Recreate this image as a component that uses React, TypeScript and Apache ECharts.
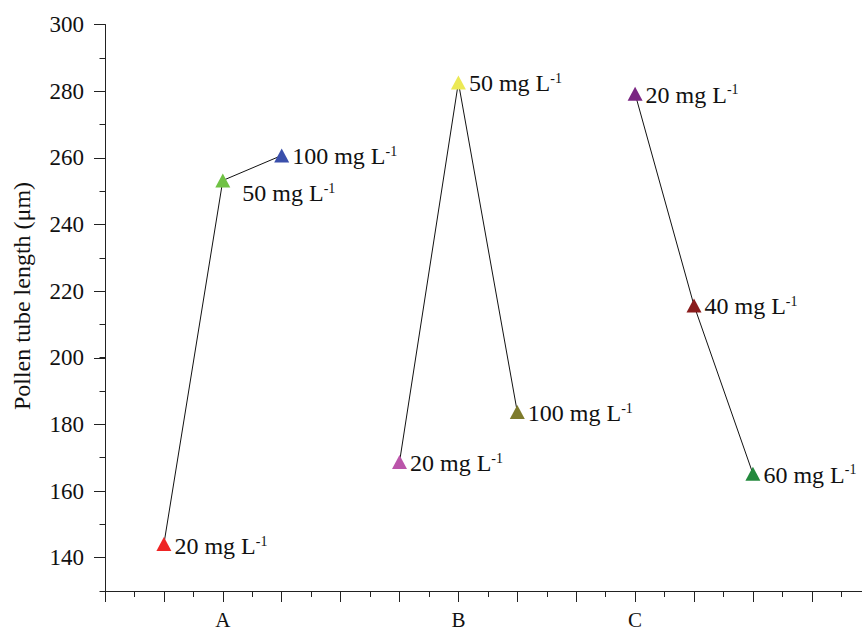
import React, { useEffect, useRef } from "react";
import * as echarts from "echarts";

const groupNames = ["A", "B", "C"];
const groupTickX = [3, 7, 10];

const xA = [2, 3, 4];
const yA = [144.1, 253.2, 260.7];
const concA = [20, 50, 100];
const colorsA = ["#ee2525", "#70c244", "#3a4fab"];

const xB = [6, 7, 8];
const yB = [168.7, 282.6, 183.7];
const concB = [20, 50, 100];
const colorsB = ["#bb55aa", "#ece955", "#7e7b2c"];

const xC = [10, 11, 12];
const yC = [279.2, 215.7, 165.2];
const concC = [20, 40, 60];
const colorsC = ["#7a2582", "#8a1c1c", "#23893d"];

const yAxisTitle = "Pollen tube length (\u03bcm)";
const unitText = "mg L";
const unitSup = "-1";

const FONT = "'Liberation Serif', 'Times New Roman', serif";

function buildSeries(xs: number[], ys: number[], conc: number[], colors: string[], offsets: number[][]) {
  return {
    type: "line",
    xAxisIndex: 0,
    yAxisIndex: 0,
    data: xs.map((x, i) => ({
      value: [x, ys[i]],
      itemStyle: { color: colors[i] },
      label: { offset: offsets[i] },
    })),
    symbol: "triangle",
    symbolSize: [15, 14],
    lineStyle: { color: "#111", width: 1 },
    label: {
      show: true,
      position: "right",
      distance: 3,
      formatter: (p: any) => `{a|${conc[p.dataIndex]} ${unitText}}{s|${unitSup}}`,
      rich: {
        a: { fontFamily: FONT, fontSize: 24, color: "#111" },
        s: { fontFamily: FONT, fontSize: 14, color: "#111", verticalAlign: "top" },
      },
    },
    emphasis: { disabled: true },
  };
}

export default function App() {
  const ref = useRef<HTMLDivElement>(null);
  useEffect(() => {
    if (!ref.current) return;
    const chart = echarts.init(ref.current, null, { renderer: "svg" });
    const axisColor = "#222";
    const gridWidth = 13 * 58.9;
    chart.setOption({
      animation: false,
      backgroundColor: "#fff",
      grid: [
        { left: 105, width: gridWidth, top: 24.5, bottom: 41, containLabel: false, outerBoundsMode: "none" },
        { left: 105, width: gridWidth, top: 24.5, bottom: 74.3, containLabel: false, outerBoundsMode: "none" },
      ],
      xAxis: [
        {
          type: "value",
          gridIndex: 0,
          min: 1,
          max: 14,
          interval: 1,
          axisLine: { show: true, lineStyle: { color: axisColor, width: 1 } },
          axisTick: { show: true, length: 11, lineStyle: { color: axisColor } },
          minorTick: { show: true, splitNumber: 2, length: 6, lineStyle: { color: axisColor } },
          splitLine: { show: false },
          axisLabel: {
            margin: 18,
            fontFamily: FONT,
            fontSize: 21,
            lineHeight: 21,
            color: "#111",
            formatter: (v: number) => {
              const idx = groupTickX.indexOf(Math.round(v));
              return Math.abs(v - Math.round(v)) < 1e-6 && idx >= 0 ? groupNames[idx] : "";
            },
          },
        },
        {
          type: "value",
          gridIndex: 1,
          min: 1,
          max: 14,
          show: false,
        },
      ],
      yAxis: [
        {
          type: "value",
          gridIndex: 0,
          min: 130,
          max: 300,
          interval: 10,
          axisLine: { show: true, lineStyle: { color: axisColor, width: 1 } },
          axisTick: { show: true, length: 5.5, lineStyle: { color: axisColor } },
          axisLabel: { show: false },
          splitLine: { show: false },
        },
        {
          type: "value",
          gridIndex: 1,
          min: 140,
          max: 300,
          interval: 20,
          axisLine: { show: false },
          axisTick: { show: true, length: 11, lineStyle: { color: axisColor } },
          axisLabel: { margin: 21, fontFamily: FONT, fontSize: 23, color: "#111" },
          splitLine: { show: false },
        },
      ],
      graphic: [
        {
          type: "text",
          x: 22,
          y: 296,
          rotation: Math.PI / 2,
          style: {
            text: yAxisTitle,
            fontFamily: FONT,
            fontSize: 24,
            fill: "#111",
            align: "center",
            verticalAlign: "middle",
          },
        },
      ],
      series: [
        buildSeries(xA, yA, concA, colorsA, [[0, 2], [9, 13], [0, 1]]),
        buildSeries(xB, yB, concB, colorsB, [[0, 1], [0, 1], [0, 1]]),
        buildSeries(xC, yC, concC, colorsC, [[0, 1], [0, 1], [0, 1]]),
      ],
    });
    return () => chart.dispose();
  }, []);
  return (
    <div
      ref={ref}
      style={{ position: "absolute", left: 0, top: 0, width: 862, height: 632, background: "#fff" }}
    />
  );
}
